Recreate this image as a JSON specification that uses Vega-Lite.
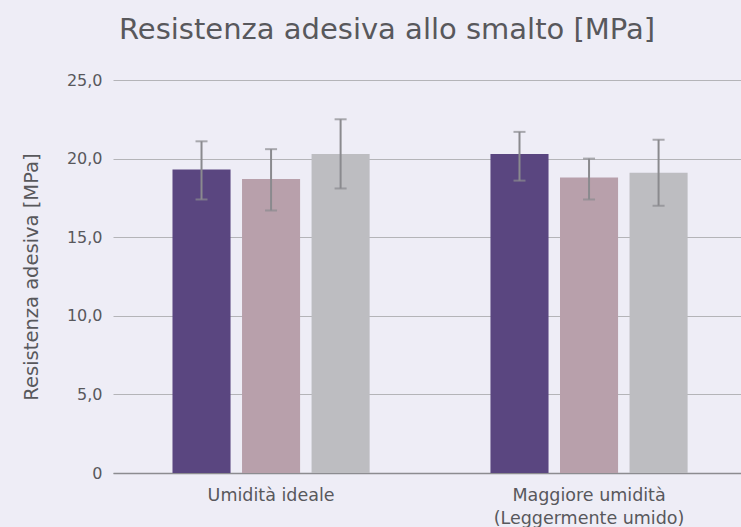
{
  "$schema": "https://vega.github.io/schema/vega-lite/v6.json",
  "width": 628,
  "height": 393,
  "autosize": {"type": "none"},
  "padding": {"left": 113, "top": 80, "right": 0, "bottom": 54},
  "background": "#eeedf6",
  "config": {
    "view": {"stroke": null},
    "font": "DejaVu Sans"
  },
  "title": {
    "text": "Resistenza adesiva allo smalto [MPa]",
    "anchor": "start",
    "frame": "group",
    "dx": 6,
    "offset": 27,
    "fontSize": 29,
    "fontWeight": "normal",
    "color": "#58585c",
    "font": "DejaVu Sans"
  },
  "data": {
    "values": [
      {"gruppo": "Umidità ideale", "serie": "Prodotto 1", "valore": 19.3, "min": 17.4, "max": 21.1},
      {"gruppo": "Umidità ideale", "serie": "Prodotto 2", "valore": 18.7, "min": 16.7, "max": 20.6},
      {"gruppo": "Umidità ideale", "serie": "Prodotto 3", "valore": 20.3, "min": 18.1, "max": 22.5},
      {"gruppo": "Maggiore umidità\n(Leggermente umido)", "serie": "Prodotto 1", "valore": 20.3, "min": 18.6, "max": 21.7},
      {"gruppo": "Maggiore umidità\n(Leggermente umido)", "serie": "Prodotto 2", "valore": 18.8, "min": 17.4, "max": 20.0},
      {"gruppo": "Maggiore umidità\n(Leggermente umido)", "serie": "Prodotto 3", "valore": 19.1, "min": 17.0, "max": 21.2}
    ]
  },
  "encoding": {
    "x": {
      "field": "gruppo",
      "type": "nominal",
      "sort": null,
      "scale": {"paddingInner": 0.38, "paddingOuter": 0.1775, "align": 0.527},
      "axis": {
        "title": null,
        "labelAngle": 0,
        "labelExpr": "split(datum.label, '\\n')",
        "labelFontSize": 17.5,
        "labelColor": "#58585c",
        "labelPadding": 13,
        "labelLineHeight": 23,
        "labelLimit": 400,
        "ticks": false,
        "domainColor": "#8c8c90",
        "domainWidth": 1.5
      }
    },
    "xOffset": {
      "field": "serie",
      "type": "nominal",
      "sort": null,
      "scale": {"paddingInner": 0.165, "paddingOuter": 0}
    }
  },
  "layer": [
    {
      "mark": {"type": "bar"},
      "encoding": {
        "y": {
          "field": "valore",
          "type": "quantitative",
          "scale": {"domain": [0, 25], "nice": false},
          "axis": {
            "title": "Resistenza adesiva [MPa]",
            "titleFontSize": 19.5,
            "titleFontWeight": "normal",
            "titleColor": "#58585c",
            "titlePadding": 25,
            "values": [0, 5, 10, 15, 20, 25],
            "labelExpr": "datum.value == 0 ? '0' : replace(format(datum.value, '.1f'), '.', ',')",
            "labelFontSize": 16,
            "labelColor": "#58585c",
            "labelPadding": 11,
            "ticks": false,
            "domain": false,
            "gridColor": "#b4b4b8",
            "gridWidth": 1
          }
        },
        "color": {
          "field": "serie",
          "type": "nominal",
          "sort": null,
          "scale": {"domain": ["Prodotto 1", "Prodotto 2", "Prodotto 3"], "range": ["#5a4680", "#b8a0ab", "#bdbdc1"]},
          "legend": null
        }
      }
    },
    {
      "mark": {"type": "rule", "color": "#8a8a8e", "strokeWidth": 2},
      "encoding": {
        "y": {"field": "min", "type": "quantitative", "scale": {"domain": [0, 25], "nice": false}},
        "y2": {"field": "max"}
      }
    },
    {
      "mark": {"type": "tick", "color": "#8a8a8e", "thickness": 2, "size": 12, "orient": "horizontal"},
      "encoding": {
        "y": {"field": "min", "type": "quantitative", "scale": {"domain": [0, 25], "nice": false}}
      }
    },
    {
      "mark": {"type": "tick", "color": "#8a8a8e", "thickness": 2, "size": 12, "orient": "horizontal"},
      "encoding": {
        "y": {"field": "max", "type": "quantitative", "scale": {"domain": [0, 25], "nice": false}}
      }
    }
  ]
}
